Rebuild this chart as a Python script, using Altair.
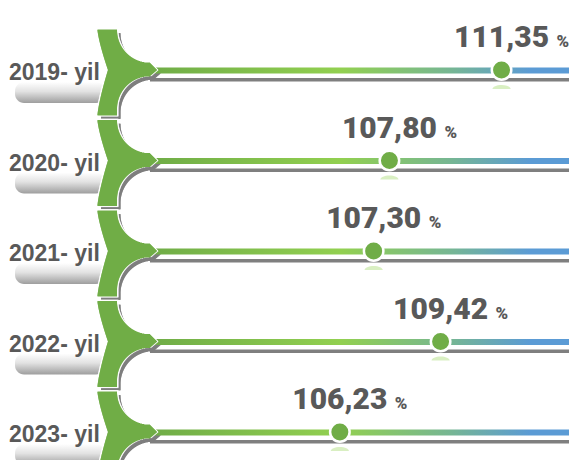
import altair as alt
import pandas as pd
import numpy as np

# ---- data ----
years = ["2019- yil", "2020- yil", "2021- yil", "2022- yil", "2023- yil"]
values = [111.35, 107.80, 107.30, 109.42, 106.23]
labels = [f"{v:.2f}".replace(".", ",") for v in values]

# ---- layout constants (page px) ----
W, H = 561, 452
X0, Y0 = 8, 8
ROW0, STEP = 70.0, 90.5
GREEN = "#70AD47"
LGREEN = "#92D050"
BLUE = "#5B9BD5"
GREY = "#7F7F7F"
TXT = "#595959"
NUMFONT = "Roboto"

pxX = alt.Scale(domain=[X0, X0 + W], nice=False, zero=False)
pxY = alt.Scale(domain=[Y0, Y0 + H], nice=False, zero=False, reverse=True)
valX = alt.Scale(domain=[95.722, 113.486], nice=False, zero=False)

rows = pd.DataFrame({
    "row": list(range(len(years))),
    "year": years,
    "value": values,
    "label": labels,
})
rows["ty"] = ROW0 + STEP * rows["row"]

# ---- decoration frames ----
deco = rows.copy()
deco["trk_y1"] = deco["ty"] - 2.5
deco["trk_y2"] = deco["ty"] + 3.5
deco["g_y1"] = deco["ty"] + 8
deco["g_y2"] = deco["ty"] + 11.5
deco["pill_y1"] = deco["ty"] + 12
deco["pill_y2"] = deco["ty"] + 33
deco["txt_y"] = deco["ty"] + 10
deco["trk_x1"] = 155
deco["trk_x2"] = 577
deco["g_x1"] = 150
deco["pill_x1"] = 15
deco["pill_x2"] = 105
deco["txt_x"] = 9


def brace(ty, sx=0.0, sy=0.0, grow=0.0):
    out = []
    top, bot = ty - 40, ty + 45
    for y in np.arange(top - grow, bot + grow + 0.01, 0.5):
        yc = min(max(y, top), bot)
        t = (yc - top) / (ty - top) if yc <= ty else (bot - yc) / (bot - ty)
        xl = 97.5 + 10.5 * t ** 1.3
        if yc <= ty - 7:
            xr = 150 - np.sqrt(max(33 ** 2 - (yc - (ty - 40)) ** 2, 0))
        elif yc <= ty:
            xr = 150 + (yc - (ty - 7))
        elif yc <= ty + 6:
            xr = 157 - (yc - ty) / 6 * 7
        elif yc <= ty + 39:
            xr = 150 - np.sqrt(max(33 ** 2 - (ty + 39 - yc) ** 2, 0))
        else:
            xr = 117
        out.append({"y": y + sy, "xl": xl + sx - grow, "xr": xr + sx + grow})
    return out


def brace_frame(**kw):
    recs = []
    for r, ty in zip(rows["row"], rows["ty"]):
        for p in brace(ty, **kw):
            p["row"] = r
            recs.append(p)
    return pd.DataFrame(recs)


sh = brace_frame(sx=3.5, sy=3.5)
wh = brace_frame(grow=1.4)
br = brace_frame()

base = alt.Chart(deco)

pill = base.mark_rect(
    cornerRadius=9,
    color=alt.Gradient(
        gradient="linear",
        stops=[alt.GradientStop(color="#FFFFFF", offset=0),
               alt.GradientStop(color="#E2E2E2", offset=0.45),
               alt.GradientStop(color="#9E9E9E", offset=1)],
        x1=0, x2=0, y1=0, y2=1),
).encode(
    x=alt.X("pill_x1:Q", scale=pxX, axis=None), x2="pill_x2:Q",
    y=alt.Y("pill_y1:Q", scale=pxY, axis=None), y2="pill_y2:Q",
)

year_txt = base.mark_text(
    align="left", baseline="alphabetic", font="Liberation Sans",
    fontWeight="bold", fontSize=23, color=TXT,
).encode(
    x=alt.X("txt_x:Q", scale=pxX, axis=None),
    y=alt.Y("txt_y:Q", scale=pxY, axis=None),
    text="year:N",
)

grey_line = base.mark_rect(color=GREY).encode(
    x=alt.X("g_x1:Q", scale=pxX, axis=None), x2="trk_x2:Q",
    y=alt.Y("g_y1:Q", scale=pxY, axis=None), y2="g_y2:Q",
)

track = base.mark_rect(
    color=alt.Gradient(
        gradient="linear",
        stops=[alt.GradientStop(color=GREEN, offset=0),
               alt.GradientStop(color=LGREEN, offset=0.44),
               alt.GradientStop(color="#76B693", offset=0.70),
               alt.GradientStop(color=BLUE, offset=0.89),
               alt.GradientStop(color=BLUE, offset=1)],
        x1=0, x2=1, y1=0, y2=0),
).encode(
    x=alt.X("trk_x1:Q", scale=pxX, axis=None), x2="trk_x2:Q",
    y=alt.Y("trk_y1:Q", scale=pxY, axis=None), y2="trk_y2:Q",
)


def brace_layer(df, color):
    return alt.Chart(df).mark_rule(color=color, strokeWidth=1).encode(
        y=alt.Y("y:Q", scale=pxY, axis=None),
        x=alt.X("xl:Q", scale=pxX, axis=None), x2="xr:Q",
    )


shadow = brace_layer(sh, GREY)
white = brace_layer(wh, "#FFFFFF")
brace_m = brace_layer(br, GREEN)

deco_layer = alt.layer(pill, year_txt, grey_line, shadow, track, white, brace_m)

# ---- data layer ----
dat = rows.copy()
dat["refl_y"] = dat["ty"] + 19
dat["lab_y"] = dat["ty"] - 23
dbase = alt.Chart(dat)

refl = dbase.mark_point(
    shape="M-1,0A1,0.45,0,0,1,1,0Z", filled=True, color=LGREEN,
    opacity=0.35, size=330,
).encode(
    x=alt.X("value:Q", scale=valX, axis=None),
    y=alt.Y("refl_y:Q", scale=pxY, axis=None),
)

dots = dbase.mark_circle(
    size=380, color=GREEN, opacity=1, stroke="white", strokeWidth=2.5
).encode(
    x=alt.X("value:Q", scale=valX, axis=None),
    y=alt.Y("ty:Q", scale=pxY, axis=None),
)

num = dbase.mark_text(
    align="center", baseline="alphabetic",
    font=NUMFONT, fontWeight=900, fontSize=30, color=TXT,
).encode(
    x=alt.X("value:Q", scale=valX, axis=None),
    y=alt.Y("lab_y:Q", scale=pxY, axis=None),
    text="label:N",
)

pct = dbase.mark_text(
    align="left", baseline="alphabetic", dx=55,
    font=NUMFONT, fontWeight=900, fontSize=17, color=TXT,
).encode(
    x=alt.X("value:Q", scale=valX, axis=None),
    y=alt.Y("lab_y:Q", scale=pxY, axis=None),
    text=alt.value("%"),
)

data_layer = alt.layer(refl, dots, num, pct)

chart = alt.layer(deco_layer, data_layer).resolve_scale(
    x="independent"
).properties(
    width=W, height=H, autosize="none", padding=0
).configure_view(stroke=None)

chart.save("out.html", embed_options={"renderer": "svg", "actions": False})
